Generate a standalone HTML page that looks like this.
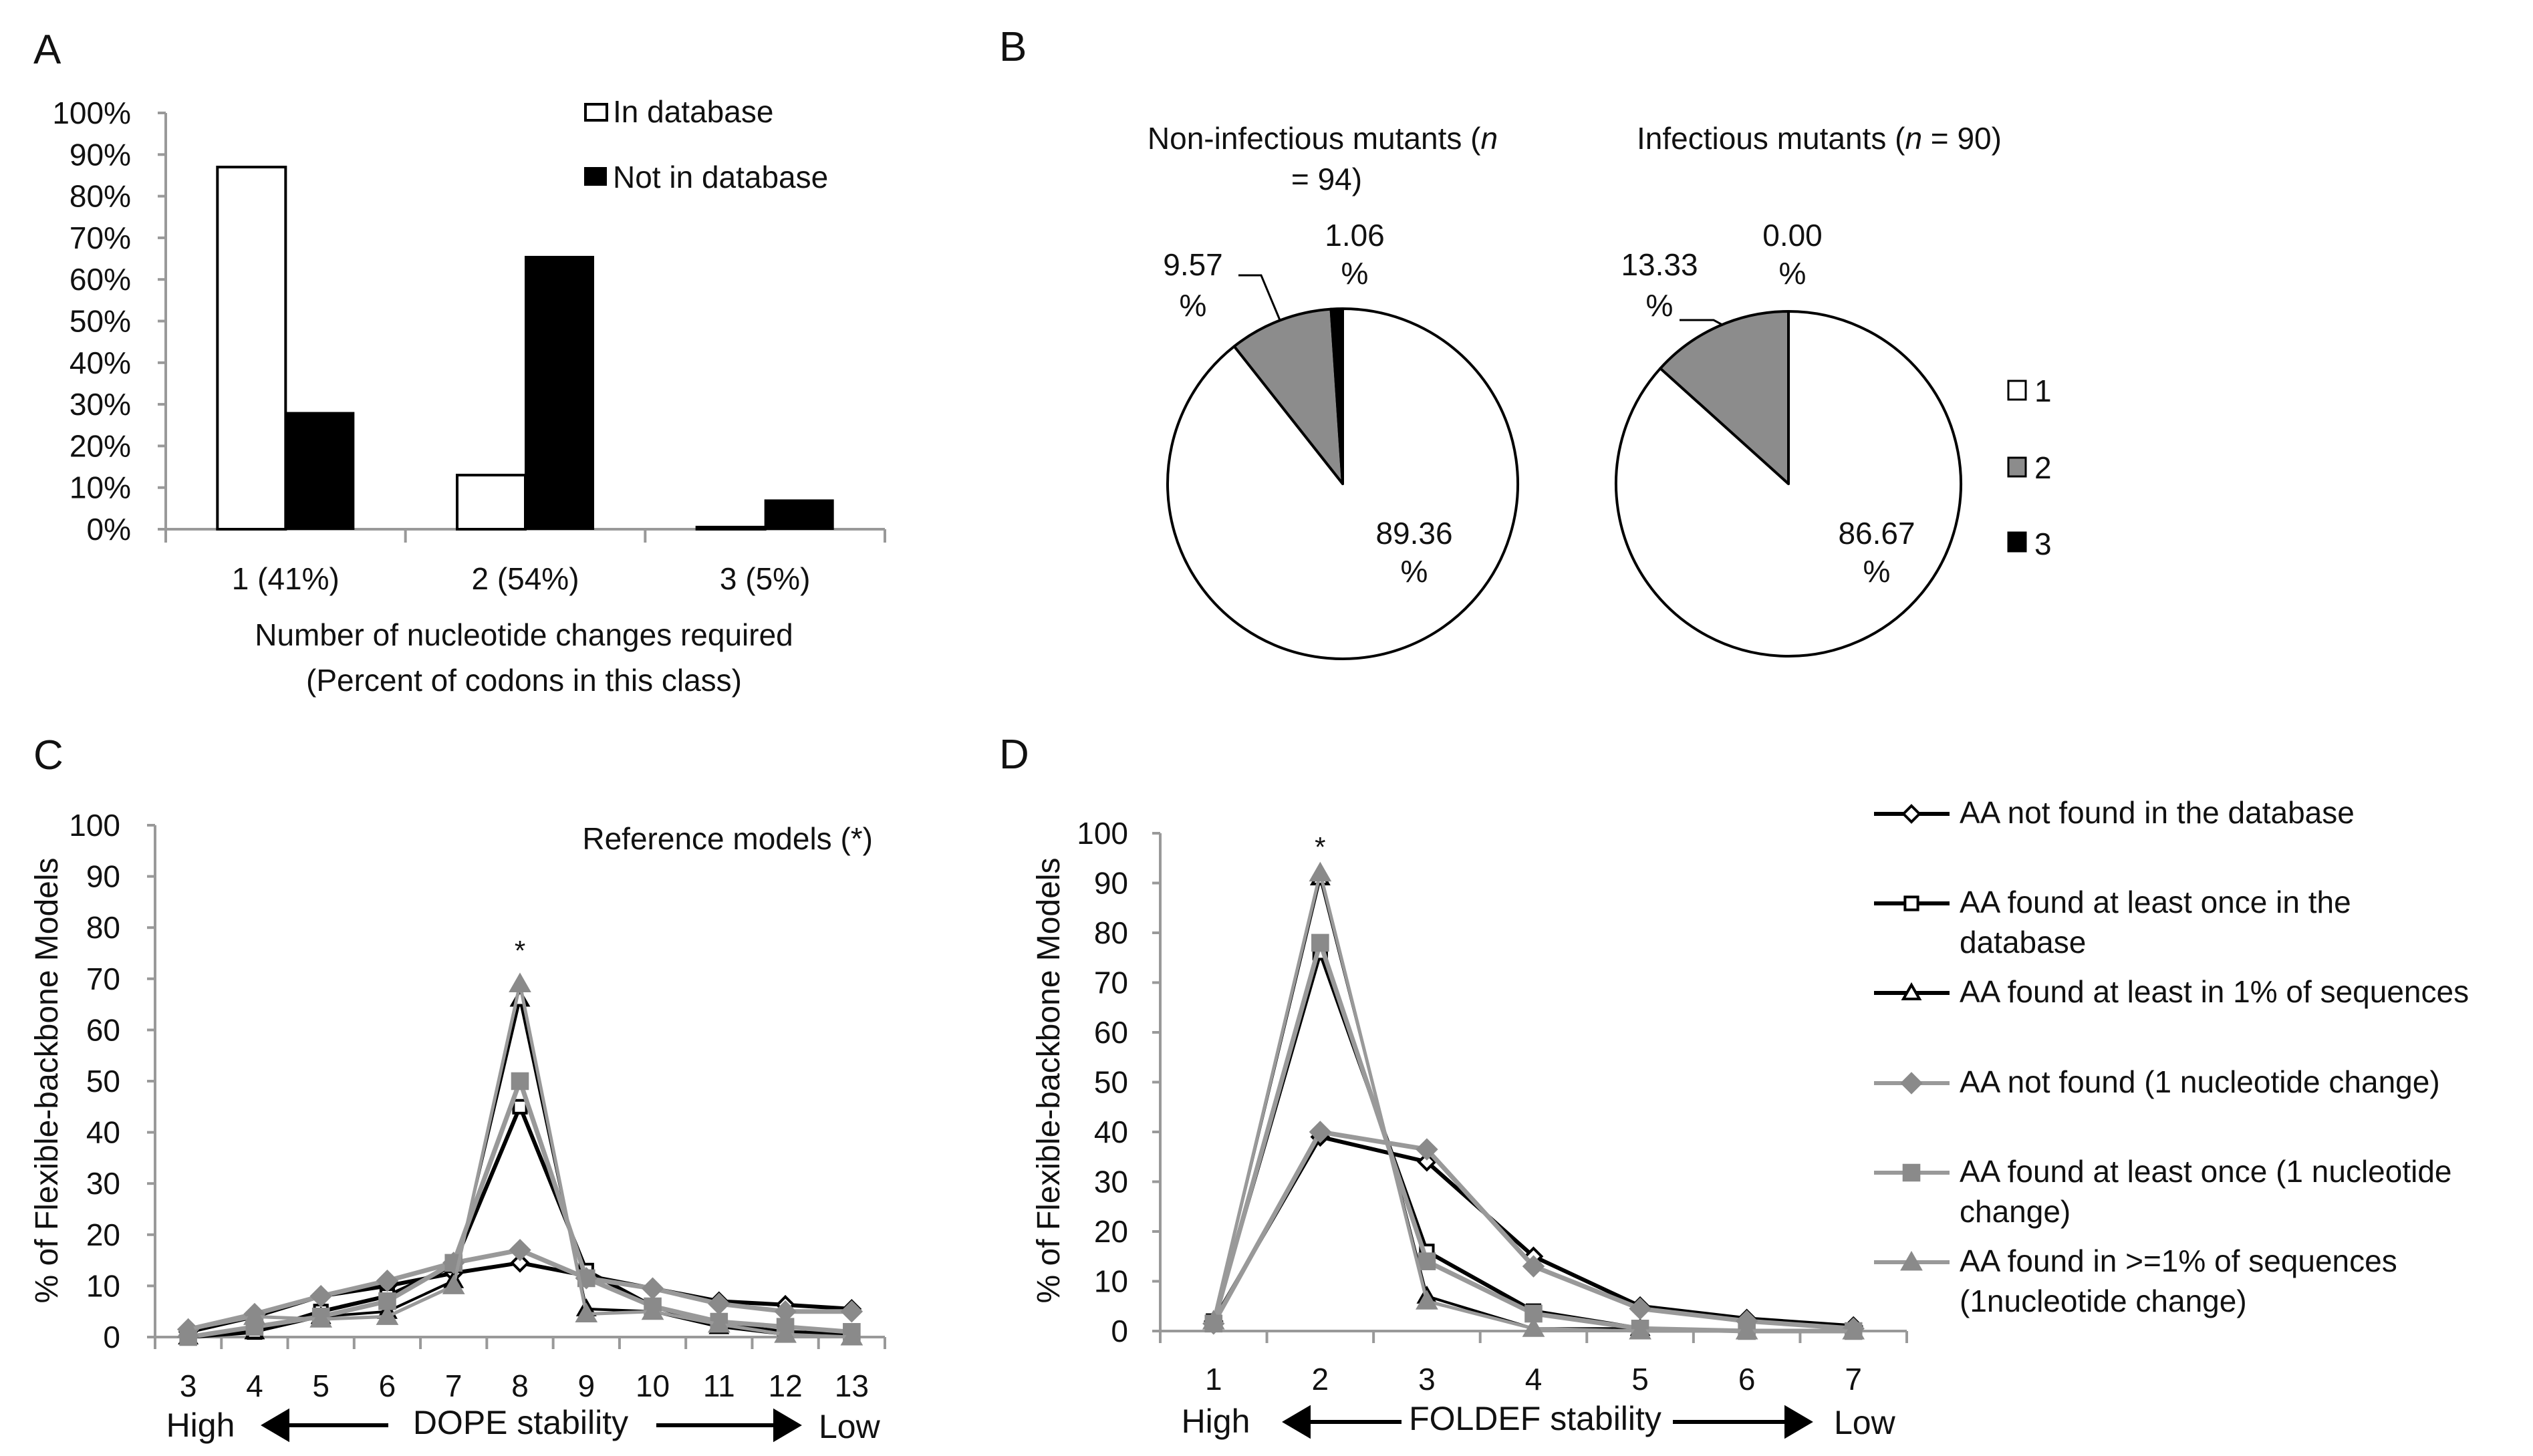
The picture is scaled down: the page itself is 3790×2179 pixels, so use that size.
<!DOCTYPE html>
<html><head><meta charset="utf-8"><style>
html,body{margin:0;padding:0;background:#fff}
svg{display:block}
text{font-family:"Liberation Sans",sans-serif;fill:#111}
</style></head><body>
<svg id="fig" width="3790" height="2179" viewBox="0 0 3790 2179" xmlns="http://www.w3.org/2000/svg">
<rect width="3790" height="2179" fill="#fff"/>
<text x="50" y="95" font-size="62">A</text>
<text x="1495" y="91" font-size="62">B</text>
<text x="50" y="1151" font-size="62">C</text>
<text x="1495" y="1150" font-size="62">D</text>
<g id="pa"></g>
<g id="pb"></g>
<g id="pc"></g>
<g id="pd"></g>
</svg>
<script>
// ---- Panel A data
const aCategories = ["1 (41%)", "2 (54%)", "3 (5%)"];
const aInDatabase = [87, 13, 0.5];
const aNotInDatabase = [28, 65.5, 7];
const aTicks = [0,10,20,30,40,50,60,70,80,90,100];
// ---- Panel B data
const bPie1Values = [89.36, 9.57, 1.06];
const bPie2Values = [86.67, 13.33, 0.00];
const bPie1Labels = ["89.36", "9.57", "1.06"];
const bPie2Labels = ["86.67", "13.33", "0.00"];
// ---- Panel C data
const cCategories = [3,4,5,6,7,8,9,10,11,12,13];
const cS1 = [1,4,8,10,12.5,14.5,12,9.5,7,6.3,5.5];
const cS2 = [0,1,5,8,14,45,13,6,2.5,1,0.5];
const cS3 = [0,1,4,5,11,66,5.5,5,2,0.5,0];
const cS4 = [1.5,4.5,8,11,14.5,17,11.5,9.5,6.5,5,5];
const cS5 = [0,2,4,7,14.5,50,11.5,6,3,2,1];
const cS6 = [1.5,4,3.5,4,10,69,4.5,5,2.5,0.5,0];
// ---- Panel D data
const dCategories = [1,2,3,4,5,6,7];
const dS1 = [2,39,34,15,5,2.5,1];
const dS2 = [2,76,16,4,0.5,0,0];
const dS3 = [2,91,7,0.5,0.5,0,0];
const dS4 = [1.5,40,36.5,13,4.5,2,0.5];
const dS5 = [1.5,78,14,3.5,0.5,0,0];
const dS6 = [2,92,6,0.5,0,0,0];
const lineTicks = [0,10,20,30,40,50,60,70,80,90,100];
const legendLabels = [["AA not found in the database"],["AA found at least once in the","database"],["AA found at least in 1% of sequences"],["AA not found (1 nucleotide change)"],["AA found at least once (1 nucleotide","change)"],["AA found in >=1% of sequences","(1nucleotide change)"]];

const NS="http://www.w3.org/2000/svg";
function mk(parent,tag,attrs,txt){const e=document.createElementNS(NS,tag);for(const k in attrs)e.setAttribute(k,attrs[k]);if(txt!==undefined)e.textContent=txt;parent.appendChild(e);return e;}
const GRAY="#999", MARK="#8a8a8a";

// ===== Panel A
(function(){
  const g=document.getElementById('pa');
  const x0=248,x1=1324,y0=792,y1=169;
  const cw=(x1-x0)/aCategories.length, bw=102;
  const y=v=>y0-(v/100)*(y0-y1);
  let e=mk(g,'line',{x1:x0,y1:y1,x2:x0,y2:y0,stroke:GRAY,'stroke-width':4});
  
  e=mk(g,'line',{x1:x0,y1:y0,x2:x1,y2:y0,stroke:GRAY,'stroke-width':4});
  
  aTicks.forEach(t=>{mk(g,'line',{x1:x0-12,y1:y(t),x2:x0,y2:y(t),stroke:GRAY,'stroke-width':4});
    const l=mk(g,'text',{x:196,y:y(t)+16,'font-size':46,'text-anchor':'end'},t+'%');
    });
  for(let i=0;i<=aCategories.length;i++)mk(g,'line',{x1:x0+i*cw,y1:y0,x2:x0+i*cw,y2:y0+20,stroke:GRAY,'stroke-width':4});
  aCategories.forEach((c,i)=>{
    const cx=x0+cw*(i+0.5);
    let b=mk(g,'rect',{x:cx-bw,y:y(aInDatabase[i]),width:bw,height:y0-y(aInDatabase[i]),fill:'#fff',stroke:'#000','stroke-width':4});
    
    b=mk(g,'rect',{x:cx,y:y(aNotInDatabase[i]),width:bw,height:y0-y(aNotInDatabase[i]),fill:'#000',stroke:'#000','stroke-width':2});
    
    const l=mk(g,'text',{x:cx,y:882,'font-size':46,'text-anchor':'middle'},c);
    
  });
  let t=mk(g,'text',{x:784,y:966,'font-size':46,'text-anchor':'middle'},'Number of nucleotide changes required');
  
  t=mk(g,'text',{x:784,y:1034,'font-size':46,'text-anchor':'middle'},'(Percent of codons in this class)');
  
  let r=mk(g,'rect',{x:876,y:156,width:32,height:24,fill:'#fff',stroke:'#000','stroke-width':4});
  
  t=mk(g,'text',{x:917,y:183,'font-size':46},'In database');
  
  r=mk(g,'rect',{x:874,y:250,width:34,height:28,fill:'#000'});
  
  t=mk(g,'text',{x:917,y:281,'font-size':46},'Not in database');
  
})();

// ===== Panel B
(function(){
  const g=document.getElementById('pb');
  const fills=['#fff','#8c8c8c','#000'];
  function pie(cx,cy,r,vals,name){
    const tot=vals.reduce((a,b)=>a+b,0);let a0=0;
    vals.forEach((v,i)=>{
      if(v<=0)return;
      const a1=a0+v/tot*2*Math.PI;
      const p=(a)=>[cx+r*Math.sin(a),cy-r*Math.cos(a)];
      const [xa,ya]=p(a0),[xb,yb]=p(a1);
      const large=(a1-a0)>Math.PI?1:0;
      const s=mk(g,'path',{d:`M${cx},${cy} L${xa},${ya} A${r},${r} 0 ${large} 1 ${xb},${yb} Z`,fill:fills[i],stroke:'#000','stroke-width':4,'stroke-linejoin':'round'});
      
      
      a0=a1;
    });
  }
  pie(2009,724,262,bPie1Values,'pie-non-infectious');
  pie(2676,724,258,bPie2Values,'pie-infectious');
  const T=(x,y,s,n,anchor)=>{const t=mk(g,'text',{x:x,y:y,'font-size':46,'text-anchor':anchor||'middle'},s);return t;};
  let t=mk(g,'text',{x:1979,y:223,'font-size':46,'text-anchor':'middle'});
  
  t.innerHTML='Non-infectious mutants (<tspan font-style="italic">n</tspan>';
  T(1985,284,'= 94)','pie-non-infectious-title-line2');
  t=mk(g,'text',{x:2722,y:223,'font-size':46,'text-anchor':'middle'});
  
  t.innerHTML='Infectious mutants (<tspan font-style="italic">n</tspan> = 90)';
  T(2116,814,bPie1Labels[0],'pie1-label-1');T(2116,871,'%','pie1-label-1-pct');
  T(1785,412,bPie1Labels[1],'pie1-label-2');T(1785,473,'%','pie1-label-2-pct');
  T(2027,368,bPie1Labels[2],'pie1-label-3');T(2027,425,'%','pie1-label-3-pct');
  T(2808,814,bPie2Labels[0],'pie2-label-1');T(2808,871,'%','pie2-label-1-pct');
  T(2483,412,bPie2Labels[1],'pie2-label-2');T(2483,473,'%','pie2-label-2-pct');
  T(2682,368,bPie2Labels[2],'pie2-label-3');T(2682,425,'%','pie2-label-3-pct');
  let l=mk(g,'polyline',{points:'1853,412 1887,412 1915,479',fill:'none',stroke:'#000','stroke-width':3});
  
  l=mk(g,'polyline',{points:'2513,479 2564,479 2577,486',fill:'none',stroke:'#000','stroke-width':3});
  
  const ly=[[570,601],[685,716],[797,830]];
  ly.forEach((yy,i)=>{
    const r=mk(g,'rect',{x:3005,y:yy[0],width:26,height:28,fill:fills[i],stroke:'#000','stroke-width':3});
    
    const t2=mk(g,'text',{x:3044,y:yy[1],'font-size':46},String(i+1));
    
  });
})();

// ===== Line chart helper
const styles=[
  {stroke:'#000',fill:'#fff',shape:'diamond',w:6},
  {stroke:'#000',fill:'#fff',shape:'square',w:6},
  {stroke:'#000',fill:'#fff',shape:'triangle',w:4},
  {stroke:'#999',fill:MARK,shape:'diamond',w:7},
  {stroke:'#999',fill:MARK,shape:'square',w:7},
  {stroke:'#999',fill:MARK,shape:'triangle',w:5}
];
function marker(g,shape,x,y,s,fill,stroke,sw){
  let d;
  if(shape==='diamond')d=`M${x},${y-s} L${x+s},${y} L${x},${y+s} L${x-s},${y} Z`;
  else if(shape==='square')d=`M${x-s*0.8},${y-s*0.8} h${s*1.6} v${s*1.6} h${-s*1.6} Z`;
  else d=`M${x},${y-s} L${x+s},${y+s*0.75} L${x-s},${y+s*0.75} Z`;
  return mk(g,'path',{d:d,fill:fill,stroke:stroke,'stroke-width':sw});
}
function lineChart(g,cfg,cats,series,prefix){
  const {x0,x1,y0,y1}=cfg;
  const cw=(x1-x0)/cats.length;
  const X=i=>x0+cw*(i+0.5), Y=v=>y0-(v/100)*(y0-y1);
  let e=mk(g,'line',{x1:x0,y1:y1,x2:x0,y2:y0,stroke:GRAY,'stroke-width':4});
  
  e=mk(g,'line',{x1:x0,y1:y0,x2:x1,y2:y0,stroke:GRAY,'stroke-width':4});
  
  lineTicks.forEach(t=>{mk(g,'line',{x1:x0-12,y1:Y(t),x2:x0,y2:Y(t),stroke:GRAY,'stroke-width':4});
    const l=mk(g,'text',{x:cfg.tickRight,y:Y(t)+16,'font-size':46,'text-anchor':'end'},String(t));
    });
  for(let i=0;i<=cats.length;i++)mk(g,'line',{x1:x0+i*cw,y1:y0,x2:x0+i*cw,y2:y0+18,stroke:GRAY,'stroke-width':4});
  cats.forEach((c,i)=>{const l=mk(g,'text',{x:X(i),y:cfg.tickY,'font-size':46,'text-anchor':'middle'},String(c));
    });
  series.forEach((vals,si)=>{
    const st=styles[si];
    const pl=mk(g,'polyline',{points:vals.map((v,i)=>X(i)+','+Y(v)).join(' '),fill:'none',stroke:st.stroke,'stroke-width':st.w,'stroke-linejoin':'round'});
    
    vals.forEach((v,i)=>{
      const m=marker(g,st.shape,X(i),Y(v),st.fill==='#fff'?12:16,st.fill,st.fill==='#fff'?'#000':MARK,st.fill==='#fff'?4:1);
      
    });
  });
  return {X,Y};
}
function arrowAxis(g,cfg,prefix){
  const T=(x,y,s,n,a)=>{const t=mk(g,'text',{x:x,y:y,'font-size':50,'text-anchor':a||'start'},s);};
  T(cfg.highX,cfg.y,'High',prefix+'-high-label','middle');
  T(cfg.titleX,cfg.y-4,cfg.title,prefix+'-x-axis-title','middle');
  T(cfg.lowX,cfg.y+2,'Low',prefix+'-low-label','start');
  let a=mk(g,'path',{d:`M${cfg.la[0]+30},${cfg.ay} L${cfg.la[1]},${cfg.ay} M${cfg.la[0]},${cfg.ay} l34,-20 v40 Z`,stroke:'#000','stroke-width':6,fill:'#000'});
  
  a=mk(g,'path',{d:`M${cfg.ra[0]},${cfg.ay} L${cfg.ra[1]-30},${cfg.ay} M${cfg.ra[1]},${cfg.ay} l-34,-20 v40 Z`,stroke:'#000','stroke-width':6,fill:'#000'});
  
}

// ===== Panel C
(function(){
  const g=document.getElementById('pc');
  const ax=lineChart(g,{x0:232,x1:1324,y0:2001,y1:1235,tickRight:180,tickY:2090},cCategories,[cS1,cS2,cS3,cS4,cS5,cS6],'c');
  let t=mk(g,'text',{x:86,y:1617,'font-size':48,'text-anchor':'middle',transform:'rotate(-90 86 1617)'},'% of Flexible-backbone Models');
  
  t=mk(g,'text',{x:1306,y:1271,'font-size':46,'text-anchor':'end'},'Reference models (*)');
  
  t=mk(g,'text',{x:ax.X(5),y:1437,'font-size':42,'text-anchor':'middle'},'*');
  
  arrowAxis(g,{highX:300,titleX:779,lowX:1225,y:2150,title:'DOPE stability',la:[396,581],ra:[982,1194],ay:2133},'c');
})();

// ===== Panel D
(function(){
  const g=document.getElementById('pd');
  const ax=lineChart(g,{x0:1736,x1:2853,y0:1992,y1:1247,tickRight:1688,tickY:2080},dCategories,[dS1,dS2,dS3,dS4,dS5,dS6],'d');
  let t=mk(g,'text',{x:1585,y:1617,'font-size':48,'text-anchor':'middle',transform:'rotate(-90 1585 1617)'},'% of Flexible-backbone Models');
  
  t=mk(g,'text',{x:ax.X(1),y:1282,'font-size':42,'text-anchor':'middle'},'*');
  
  arrowAxis(g,{highX:1819,titleX:2297,lowX:2744,y:2144,title:'FOLDEF stability',la:[1924,2097],ra:[2503,2707],ay:2128},'d');
  const rows=[[1232],[1366,1426],[1500],[1635],[1769,1829],[1903,1963]];
  rows.forEach((r,i)=>{
    const st=styles[i], yy=r[0]-14;
    const ln=mk(g,'line',{x1:2804,y1:yy,x2:2917,y2:yy,stroke:st.stroke,'stroke-width':6});
    
    const m=marker(g,st.shape,2860,yy,st.fill==='#fff'?12:16,st.fill,st.fill==='#fff'?'#000':MARK,st.fill==='#fff'?4:1);
    
    legendLabels[i].forEach((s,j)=>{
      const tx=mk(g,'text',{x:2932,y:r[j],'font-size':46},s);
      
    });
  });
})();
</script>
</body></html>
